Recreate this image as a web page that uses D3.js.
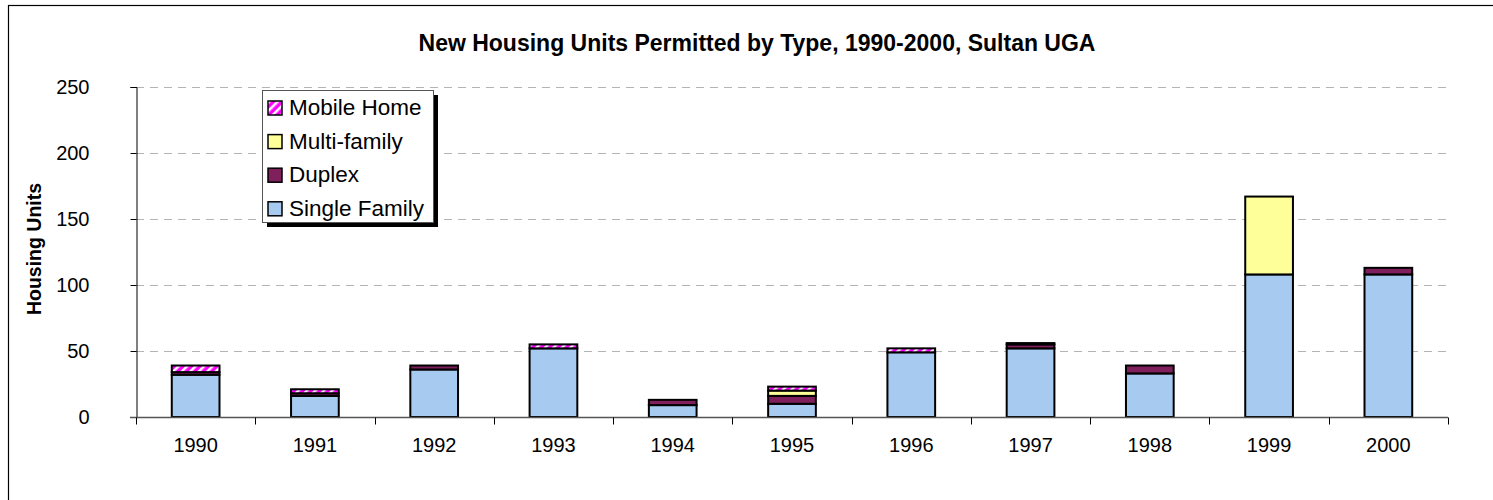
<!DOCTYPE html>
<html>
<head>
<meta charset="utf-8">
<script src="https://cdn.jsdelivr.net/npm/d3@7"></script>
<style>
  body { margin: 0; background: #fff; overflow: hidden; }
  text { font-family: "Liberation Sans", Arial, sans-serif; }
</style>
</head>
<body>
<div id="chart"></div>
<script>
// datos
var years = ["1990", "1991", "1992", "1993", "1994", "1995", "1996", "1997", "1998", "1999", "2000"];
var singleFamily = [32, 16, 36, 52, 9, 10, 49, 52, 33, 108, 108];
var duplex = [2, 2, 3, 0, 4, 6, 0, 3, 6, 0, 5];
var multiFamily = [0, 0, 0, 0, 0, 4, 0, 0, 0, 59, 0];
var mobileHome = [5, 3, 0, 3, 0, 3, 3, 1, 0, 0, 0];
var yTicks = [0, 50, 100, 150, 200, 250];

var series = ["Single Family", "Duplex", "Multi-family", "Mobile Home"];
var colors = {
    "Single Family": "#a6caf0",
    "Duplex": "#7f1f5b",
    "Multi-family": "#ffff99",
    "Mobile Home": "url(#stripes)"
};

var table = years.map((y, i) => {
    return {
        year: y,
        "Single Family": singleFamily[i],
        "Duplex": duplex[i],
        "Multi-family": multiFamily[i],
        "Mobile Home": mobileHome[i]
    };
});

var width = 1493;
var height = 500;

var svg = d3.select("#chart")
    .append("svg")
    .attr("width", width)
    .attr("height", height);

// patron rayado para mobile home
var pat = svg.append("defs").append("pattern")
    .attr("id", "stripes")
    .attr("patternUnits", "userSpaceOnUse")
    .attr("width", 6)
    .attr("height", 6)
    .attr("patternTransform", "rotate(45)");
pat.append("rect").attr("width", 6).attr("height", 6).attr("fill", "#ff00ff");
pat.append("rect").attr("width", 2.5).attr("height", 6).attr("fill", "#ffffff");

// marco exterior
svg.append("rect")
    .attr("x", 8.5)
    .attr("y", 5.5)
    .attr("width", width + 10)
    .attr("height", height + 10)
    .attr("fill", "none")
    .attr("stroke", "#000")
    .attr("stroke-width", 1.2);

var plotLeft = 136, plotRight = 1448, plotTop = 87, plotBottom = 417;

var x = d3.scaleBand()
    .domain(years)
    .range([plotLeft, plotRight])
    .paddingInner(0.6)
    .paddingOuter(0.3);

var xTickScale = d3.scaleLinear()
    .domain([0, years.length])
    .range([plotLeft, plotRight]);

var y = d3.scaleLinear()
    .domain([0, 250])
    .range([plotBottom, plotTop]);

// lineas de cuadricula
svg.append("g")
    .selectAll("line")
    .data(yTicks.slice(1))
    .enter()
    .append("line")
    .attr("x1", plotLeft)
    .attr("x2", plotRight)
    .attr("y1", (d) => Math.round(y(d)) + 0.5)
    .attr("y2", (d) => Math.round(y(d)) + 0.5)
    .attr("stroke", "#b4b4b4")
    .attr("stroke-dasharray", "8,6");

var stack = d3.stack().keys(series);
var layers = stack(table);

svg.append("g")
    .selectAll("g")
    .data(layers)
    .enter()
    .append("g")
    .attr("fill", (d) => colors[d.key])
    .selectAll("rect")
    .data((d) => d.filter((p) => p[1] - p[0] > 0))
    .enter()
    .append("rect")
    .attr("x", (d) => x(d.data.year))
    .attr("width", x.bandwidth())
    .attr("y", (d) => y(d[1]))
    .attr("height", (d) => y(d[0]) - y(d[1]))
    .attr("stroke", "#000")
    .attr("stroke-width", 2);

// eje Y
var Yaxis = d3.axisLeft(y).tickValues(yTicks).tickSize(6).tickPadding(41);
var gy = svg.append("g")
    .attr("transform", "translate(" + (plotLeft + 0.5) + ",0)")
    .call(Yaxis);
gy.select(".domain").attr("stroke", "#000");
gy.selectAll("text")
    .attr("font-size", 20)
    .attr("fill", "#000")
    .attr("font-family", "Liberation Sans, Arial, sans-serif");

// eje X
var gx = svg.append("g").attr("transform", "translate(0," + (plotBottom + 0.5) + ")");
gx.append("line")
    .attr("x1", plotLeft - 6)
    .attr("x2", plotRight)
    .attr("stroke", "#555")
    .attr("stroke-width", 1.5);
gx.selectAll(".tk")
    .data(d3.range(years.length + 1))
    .enter()
    .append("line")
    .attr("class", "tk")
    .attr("x1", (d) => Math.round(xTickScale(d)) + 0.5)
    .attr("x2", (d) => Math.round(xTickScale(d)) + 0.5)
    .attr("y1", 0)
    .attr("y2", 7)
    .attr("stroke", "#000");
gx.selectAll(".lbl")
    .data(years)
    .enter()
    .append("text")
    .attr("class", "lbl")
    .attr("x", (d) => x(d) + x.bandwidth() / 2)
    .attr("y", 34)
    .attr("text-anchor", "middle")
    .attr("font-size", 20)
    .text((d) => d);

// titulo
svg.append("text")
    .attr("x", 757)
    .attr("y", 51)
    .attr("text-anchor", "middle")
    .attr("font-size", 23)
    .attr("font-weight", "bold")
    .text("New Housing Units Permitted by Type, 1990-2000, Sultan UGA");

svg.append("text")
    .attr("transform", "translate(41,249) rotate(-90)")
    .attr("text-anchor", "middle")
    .attr("font-size", 19.5)
    .attr("font-weight", "bold")
    .text("Housing Units");

// leyenda
var lg = svg.append("g").attr("transform", "translate(262,90)");
lg.append("rect")
    .attr("x", 5).attr("y", 5)
    .attr("width", 171).attr("height", 132)
    .attr("fill", "#000");
lg.append("rect")
    .attr("x", 0.5).attr("y", 0.5)
    .attr("width", 171).attr("height", 132)
    .attr("fill", "#fff")
    .attr("stroke", "#555");

var legendItems = series.slice().reverse();
var li = lg.selectAll(".li")
    .data(legendItems)
    .enter()
    .append("g")
    .attr("class", "li")
    .attr("transform", (d, i) => "translate(6," + (11 + i * 33.6) + ")");
li.append("rect")
    .attr("width", 14)
    .attr("height", 14)
    .attr("fill", (d) => colors[d])
    .attr("stroke", "#000")
    .attr("stroke-width", 1.5);
li.append("text")
    .attr("x", 21)
    .attr("y", 14)
    .attr("font-size", 22.5)
    .text((d) => d);
</script>
</body>
</html>
